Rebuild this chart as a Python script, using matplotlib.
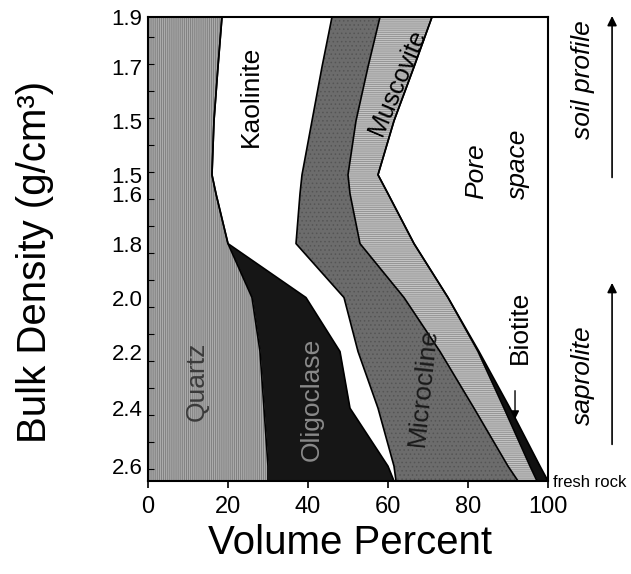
import numpy as np
import matplotlib
matplotlib.use('Agg')
import matplotlib.pyplot as plt

plt.rcParams['font.family'] = ['Liberation Sans', 'DejaVu Sans']
plt.rcParams['hatch.linewidth'] = 0.6

# sample rows from top of profile down to fresh rock (depth units, minor tick = 1)
depth = [0.25, 2.1, 4.1, 6.1, 6.8, 8.65, 10.65, 12.65, 14.75, 16.9, 17.45]
density = ['1.9', '1.7', '1.5', '1.5', '1.6', '1.8', '2.0', '2.2', '2.4', '2.6']

# volume percent of each phase at every sample row
quartz     = [18.5, 17.5, 16.5, 16.0, 17.0, 20.0, 26.0, 28.0, 29.0, 30.0, 30.0]
oligoclase = [0.0, 0.0, 0.0, 0.0, 0.0, 0.0, 13.5, 20.0, 21.5, 30.0, 31.5]
kaolinite  = [27.5, 26.0, 24.5, 22.5, 21.0, 17.0, 9.5, 4.5, 7.0, 1.5, 0.5]
microcline = [12.0, 11.5, 11.0, 11.5, 12.5, 16.0, 15.0, 20.5, 24.0, 28.5, 30.5]
muscovite  = [13.0, 11.5, 9.5, 7.5, 9.5, 13.5, 11.0, 9.5, 7.5, 5.5, 4.75]
biotite    = [0.0, 0.0, 0.0, 0.0, 0.0, 0.0, 0.0, 0.25, 1.5, 2.5, 2.75]
solids = np.array([quartz, oligoclase, kaolinite, microcline, muscovite, biotite])
pore = 100 - solids.sum(axis=0)

layers = [
    (quartz, '#ababab', '|' * 8, '#7a7a7a'),
    (oligoclase, '#161616', None, '#161616'),
    (kaolinite, 'white', None, 'white'),
    (microcline, '#6c6c6c', '....', '#555555'),
    (muscovite, '#c4c4c4', '-' * 8, '#8e8e8e'),
    (biotite, '#101010', None, '#101010'),
    (pore, 'white', None, 'white'),
]

fig = plt.figure(figsize=(6.31, 5.74), dpi=100)
ax = fig.add_axes([0.2345, 0.162, 0.634, 0.8084])

left = np.zeros(len(depth))
edges = []
for vals, fc, hatch, hc in layers:
    right = left + np.asarray(vals)
    ax.fill_betweenx(depth, left, right, facecolor=fc, edgecolor=hc,
                     hatch=hatch, linewidth=0)
    edges.append(right)
    left = right
for right in edges[:-1]:
    ax.plot(right, depth, color='black', lw=1.2)

ax.set_xlim(0, 100)
ax.set_ylim(depth[-1], depth[0])

ax.set_xticks([0, 20, 40, 60, 80, 100])
ax.tick_params(axis='x', labelsize=17, length=5, width=1.2, pad=6)
ax.set_yticks(depth[:len(density)])
ax.set_yticklabels(density)
ax.tick_params(axis='y', labelsize=16, length=0, pad=4)
ax.set_yticks(np.arange(1, 18), minor=True)
ax.tick_params(axis='y', which='minor', direction='in', length=4, width=0.8)
for s in ax.spines.values():
    s.set_linewidth(1.5)

# phase names
ax.text(25.75, 3.2, 'Kaolinite', rotation=90, fontsize=19, ha='center', va='center')
ax.text(62.5, 2.67, 'Muscovite', rotation=67, fontsize=18, ha='center', va='center')
ax.text(87.25, 5.7, 'Pore\nspace', rotation=90, fontsize=19, style='italic',
        ha='center', va='center', multialignment='left', linespacing=1.9)
ax.text(12.25, 13.74, 'Quartz', rotation=90, fontsize=19, color='#3a3a3a',
        ha='center', va='center')
ax.text(41, 14.44, 'Oligoclase', rotation=90, fontsize=19, color='#8a8a8a',
        ha='center', va='center')
ax.text(68.75, 13.96, 'Microcline', rotation=84, fontsize=19, color='#1a1a1a',
        ha='center', va='center')
ax.text(93, 11.74, 'Biotite', rotation=90, fontsize=19, ha='center', va='center')
ax.annotate('', xy=(91.75, 15.26), xytext=(91.75, 14.0),
            arrowprops=dict(arrowstyle='-|>', color='black', lw=1, mutation_scale=12))

# axis titles
fig.text(0.0555, 0.5436, 'Bulk Density (g/cm³)', rotation=90, fontsize=29,
         ha='center', va='center')
fig.text(0.5547, 0.054, 'Volume Percent', fontsize=29, ha='center', va='center')

# profile zones on the right
fig.text(0.924, 0.861, 'soil profile', rotation=90, fontsize=19, style='italic',
         ha='center', va='center')
fig.text(0.924, 0.347, 'saprolite', rotation=90, fontsize=19, style='italic',
         ha='center', va='center')
for y0, y1 in [(0.686, 0.977), (0.221, 0.512)]:
    fig.add_artist(matplotlib.patches.FancyArrowPatch(
        (0.970, y0), (0.970, y1), transform=fig.transFigure,
        arrowstyle='-|>', mutation_scale=14, color='black', lw=1.2))
fig.text(0.876, 0.160, 'fresh rock', fontsize=12, ha='left', va='center')

fig.savefig('out.png', dpi=100)
